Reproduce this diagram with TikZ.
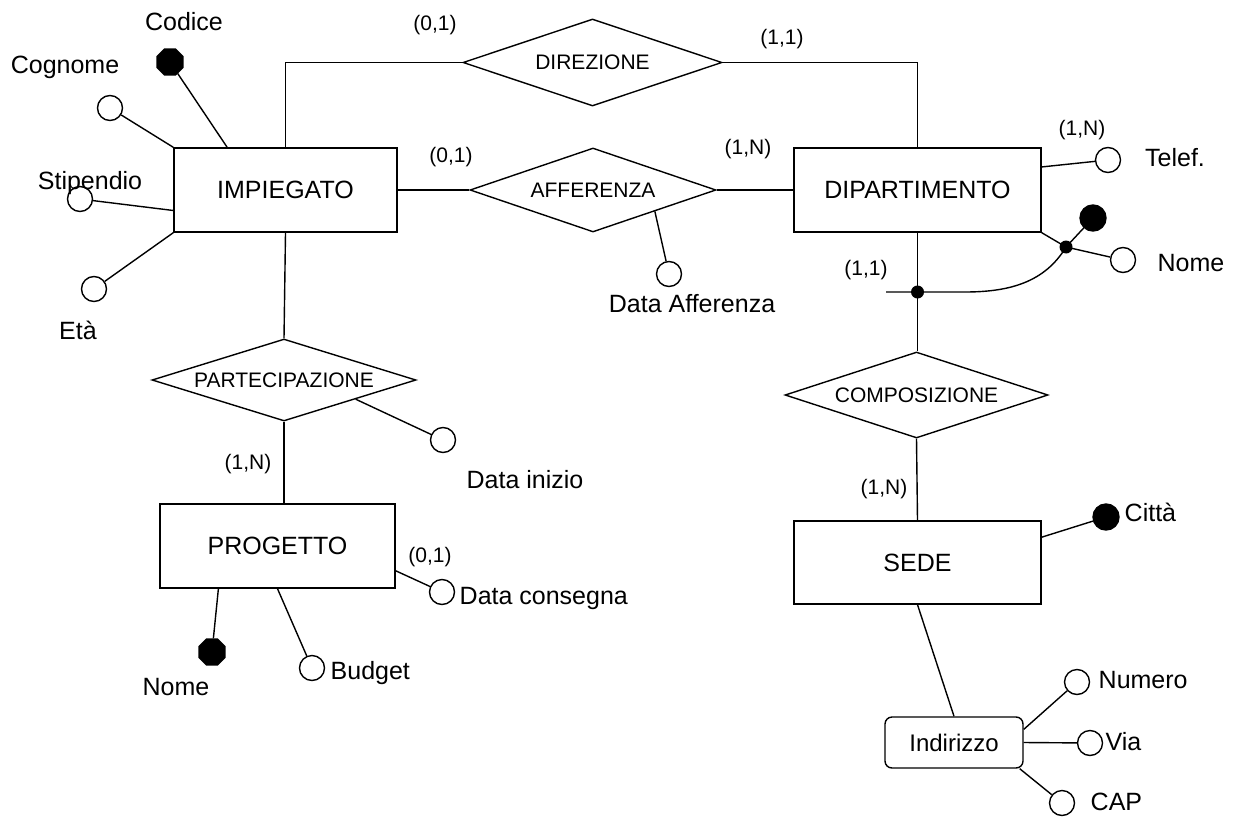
\documentclass[tikz,border=0pt]{standalone}
\usepackage{fontspec}
\setmainfont{Liberation Sans}
\usetikzlibrary{shapes.geometric,calc}
\begin{document}
\begin{tikzpicture}[x=1pt,y=-1pt, line width=1.4pt,
 entity/.style={draw, rectangle, inner sep=0pt, font=\fontsize{25}{30}\selectfont},
 relation/.style={draw, diamond, inner sep=0pt, shape aspect=3, font=\fontsize{21}{25}\selectfont},
 attr/.style={draw, circle, fill=white, inner sep=0pt, minimum size=25pt},
 keyc/.style={draw, circle, fill=black, inner sep=0pt, minimum size=26pt},
 keyoct/.style={draw, regular polygon, regular polygon sides=8, fill=black, inner sep=0pt, minimum size=28pt},
 dotn/.style={circle, fill=black, inner sep=0pt, minimum size=13pt},
 lbl/.style={inner sep=0pt, font=\fontsize{25}{30}\selectfont},
 card/.style={inner sep=0pt, font=\fontsize{21}{25}\selectfont},
]
\useasboundingbox[fill=white] (0,0) rectangle (1233,816);

% entities
\node[entity, minimum width=223pt, minimum height=84pt] (imp) at (285.5,190) {IMPIEGATO};
\node[entity, minimum width=247pt, minimum height=84pt] (dip) at (917.5,190) {DIPARTIMENTO};
\node[entity, minimum width=235pt, minimum height=84pt] (prog) at (277.5,546) {PROGETTO};
\node[entity, minimum width=247pt, minimum height=83pt] (sede) at (917.5,562.5) {SEDE};
\node[entity, rounded corners=7pt, minimum width=138pt, minimum height=51pt, font=\fontsize{24}{28}\selectfont] (ind) at (954,742.5) {Indirizzo};

% relationships
\node[relation, minimum width=259pt, minimum height=87pt] (dir) at (592.5,62.5) {DIREZIONE};
\node[relation, minimum width=246pt, minimum height=84pt] (aff) at (593,190) {AFFERENZA};
\node[relation, minimum width=264pt, minimum height=82pt] (part) at (284,380) {PARTECIPAZIONE};
\node[relation, minimum width=263pt, minimum height=86pt] (comp) at (916.5,395) {COMPOSIZIONE};

% relationship links
\draw (imp.north) |- (dir.west);
\draw (dir.east) -| (dip.north);
\draw (imp.east) -- (aff.west);
\draw (aff.east) -- (dip.west);
\draw (imp.south) -- (part.north);
\draw (part.south) -- (part.south |- prog.north);
\draw (dip.south) -- (dip.south |- comp.north);
\draw (comp.south) -- (sede.north);
\draw (sede.south) -- (ind.north);

% cardinalities
\node[card] (c1) at (435,25) {(0,1)};
\node[card] (c2) at (782,39) {(1,1)};
\node[card] (c3) at (451,157) {(0,1)};
\node[card] (c4) at (748,149) {(1,N)};
\node[card] (c5) at (866,270) {(1,1)};
\node[card] (c6) at (1082,130) {(1,N)};
\node[card] (c7) at (248,464) {(1,N)};
\node[card] (c8) at (430,557) {(0,1)};
\node[card] (c9) at (884,489) {(1,N)};

% IMPIEGATO attributes
\node[keyoct] (codice) at (170,62) {};
\node[attr] (cognome) at (110,108) {};
\node[attr] (stip) at (80,199) {};
\node[attr] (eta) at (94,289) {};
\draw ($(imp.north west)!0.24!(imp.north east)$) -- (codice);
\draw (imp.north west) -- (cognome);
\draw ($(imp.north west)!0.74!(imp.south west)$) -- (stip);
\draw (imp.south west) -- (eta);
\node[lbl] (lcodice) at (184,22) {Codice};
\node[lbl] (lcognome) at (65,67) {Cognome};
\node[lbl] (lstip) at (90,183) {Stipendio};
\node[lbl] (leta) at (78,330) {Età};

% AFFERENZA attribute
\node[attr] (daff) at (669,274) {};
\draw ($(aff.south)!0.5!(aff.east)$) -- (daff);
\node[lbl] (ldaff) at (692,304) {Data Afferenza};

% DIPARTIMENTO attributes
\node[attr] (telef) at (1108,160) {};
\draw ($(dip.north east)!0.23!(dip.south east)$) -- (telef);
\node[lbl] (ltelef) at (1175,158) {Telef.};
\node[dotn] (d2) at (1066,247) {};
\node[attr] (dnome) at (1123,260) {};
\node[keyc] (dkey) at (1093,218) {};
\draw (dip.south east) -- (d2.center) -- (dnome);
\draw (d2.center) -- (dkey);
\node[lbl] (ldnome) at (1191,263) {Nome};
\node[dotn] (d1) at (917.5,292) {};
\coordinate (cs) at (886,292);
\coordinate (cm) at (965,292);
\draw (cs) -- (cm) .. controls (1010,292) and (1045,282) .. (d2.center);

% PARTECIPAZIONE attribute
\node[attr] (dinizio) at (443,440) {};
\draw ($(part.south)!0.54!(part.east)$) -- (dinizio);
\node[lbl] (ldinizio) at (525,480) {Data inizio};

% PROGETTO attributes
\node[attr] (dcons) at (442,592) {};
\draw ($(prog.north east)!0.79!(prog.south east)$) -- (dcons);
\node[lbl, anchor=west] (ldcons) at (459,598) {Data consegna};
\node[keyoct] (pnome) at (212,652) {};
\draw ($(prog.south west)!0.25!(prog.south east)$) -- (pnome);
\node[lbl] (lpnome) at (176,687) {Nome};
\node[attr] (budget) at (312,668) {};
\draw (prog.south) -- (budget);
\node[lbl, anchor=west] (lbudget) at (330,673) {Budget};

% SEDE attributes
\node[keyc] (citta) at (1106,517) {};
\draw ($(sede.north east)!0.2!(sede.south east)$) -- (citta);
\node[lbl, anchor=west] (lcitta) at (1124,512) {Città};

% Indirizzo components
\node[attr] (numero) at (1077,682) {};
\node[attr] (via) at (1090,743) {};
\node[attr] (cap) at (1062,803) {};
\draw ($(ind.north east)!0.25!(ind.south east)$) -- (numero);
\draw (ind.east) -- (via);
\draw ($(ind.south east)+(-4,0)$) -- (cap);
\node[lbl, anchor=west] (lnumero) at (1098,680) {Numero};
\node[lbl, anchor=west] (lvia) at (1105,742) {Via};
\node[lbl, anchor=west] (lcap) at (1090,802) {CAP};
\end{tikzpicture}
\end{document}
